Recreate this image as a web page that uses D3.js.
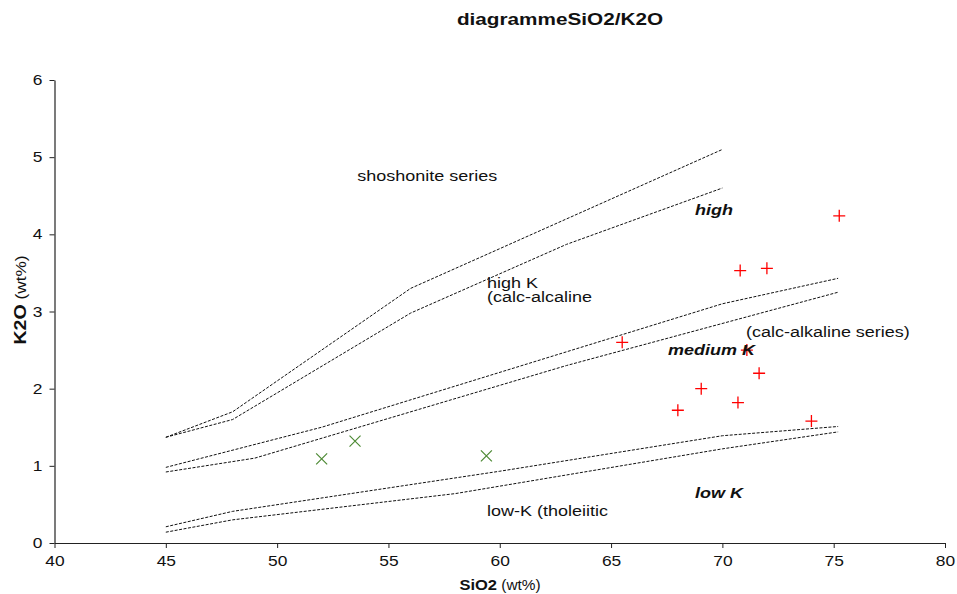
<!DOCTYPE html>
<html><head><meta charset="utf-8">
<script src="https://cdn.jsdelivr.net/npm/d3@7"></script>
<style>body{margin:0;background:#fff;} text{font-family:"Liberation Sans",Arial,sans-serif;}</style>
</head><body><svg id="c" width="957" height="594"></svg>
<script>
const xTicks = [40,45,50,55,60,65,70,75,80];
const yTicks = [0,1,2,3,4,5,6];
// boundary lines (SiO2, K2O)
const shoshoniteUpper = [[45,1.37],[48,1.7],[56,3.3],[70,5.1]];
const shoshoniteLower = [[45,1.37],[48,1.6],[56,2.98],[63,3.87],[70,4.6]];
const mediumUpper = [[45,0.98],[52,1.5],[70,3.1],[75.2,3.43]];
const mediumLower = [[45,0.92],[49,1.1],[63,2.3],[75.2,3.25]];
const lowUpper = [[45,0.21],[48,0.41],[60,0.93],[70,1.39],[75.2,1.51]];
const lowLower = [[45,0.14],[48,0.3],[58,0.64],[70,1.22],[75.2,1.44]];
// samples
const redSiO2 = [65.5,68.0,69.05,70.7,71.1,71.65,70.8,72.0,75.25,74.0];
const redK2O  = [2.6,1.72,2.0,1.82,2.5,2.2,3.53,3.56,4.24,1.58];
const greenSiO2 = [52.0,53.5,59.4];
const greenK2O  = [1.09,1.32,1.13];
const labels = [
  {t:"shoshonite series", x:53.6, y:4.69, b:false, i:false},
  {t:"high", x:68.77, y:4.25, b:true, i:true},
  {t:"high K", x:59.43, y:3.30, b:false, i:false},
  {t:"(calc-alcaline", x:59.43, y:3.12, b:false, i:false},
  {t:"(calc-alkaline series)", x:71.06, y:2.67, b:false, i:false},
  {t:"medium K", x:67.56, y:2.44, b:true, i:true},
  {t:"low K", x:68.77, y:0.58, b:true, i:true},
  {t:"low-K (tholeiitic", x:59.43, y:0.35, b:false, i:false}
];

const STRETCH = 1.2;
const svg = d3.select("#c");
const x = d3.scaleLinear().domain([40,80]).range([54.5,945]);
const y = d3.scaleLinear().domain([0,6]).range([543,80]);

const xa = svg.append("g").attr("transform","translate(0,543)")
  .call(d3.axisBottom(x).tickValues(xTicks).tickFormat(d3.format("d")).tickSize(5).tickSizeOuter(0));
const ya = svg.append("g").attr("transform","translate(54.5,0)")
  .call(d3.axisLeft(y).tickValues(yTicks).tickFormat(d3.format("d")).tickSize(5).tickSizeOuter(0));
[xa,ya].forEach(a=>{
  a.select(".domain").attr("stroke","#222").attr("stroke-width",1.2);
  a.selectAll(".tick line").attr("stroke","#222");
  a.selectAll(".tick text").attr("font-size","14.5px").attr("fill","#111")
   .style("font-family","'Liberation Sans',Arial,sans-serif");
});
xa.selectAll(".tick text").attr("dy","1.05em").attr("transform",`scale(${STRETCH},1)`);
ya.selectAll(".tick text").attr("x",-10).attr("dx",0).attr("transform",`scale(${STRETCH},1)`);

const line = d3.line().x(d=>x(d[0])).y(d=>y(d[1]));
[shoshoniteUpper,shoshoniteLower,mediumUpper,mediumLower,lowUpper,lowLower].forEach(L=>{
  svg.append("path").attr("d",line(L)).attr("fill","none").attr("stroke","#111")
    .attr("stroke-width",1).attr("stroke-dasharray","3,1.5");
});

const s = 6;
redSiO2.forEach((v,i)=>{
  const cx=x(v), cy=y(redK2O[i]);
  svg.append("path").attr("d",`M${cx-s},${cy}H${cx+s}M${cx},${cy-s}V${cy+s}`)
    .attr("stroke","#ff0000").attr("stroke-width",1.3).attr("fill","none");
});
greenSiO2.forEach((v,i)=>{
  const cx=x(v), cy=y(greenK2O[i]), g=5.5;
  svg.append("path").attr("d",`M${cx-g},${cy-g}L${cx+g},${cy+g}M${cx-g},${cy+g}L${cx+g},${cy-g}`)
    .attr("stroke","#4e8a35").attr("stroke-width",1.2).attr("fill","none");
});

labels.forEach(l=>{
  svg.append("text").attr("transform",`translate(${x(l.x)},${y(l.y)}) scale(${STRETCH},1)`).text(l.t)
    .attr("font-size","15px").attr("fill","#111")
    .attr("font-weight",l.b?"bold":"normal").attr("font-style",l.i?"italic":"normal");
});

svg.append("text").attr("transform","translate(560,25) scale(1.22,1)").attr("text-anchor","middle")
  .attr("font-size","17px").attr("font-weight","bold").attr("fill","#111").text("diagrammeSiO2/K2O");

const xl = svg.append("text").attr("transform","translate(500,590) scale(1.1,1)").attr("text-anchor","middle").attr("fill","#111");
xl.append("tspan").attr("font-weight","bold").attr("font-size","15px").text("SiO2");
xl.append("tspan").attr("font-size","14px").text(" (wt%)");

const yl = svg.append("text").attr("transform","translate(26,300) rotate(-90) scale(1.15,1)").attr("text-anchor","middle").attr("fill","#111");
yl.append("tspan").attr("font-weight","bold").attr("font-size","17px").text("K2O");
yl.append("tspan").attr("font-size","15px").text(" (wt%)");
</script></body></html>
